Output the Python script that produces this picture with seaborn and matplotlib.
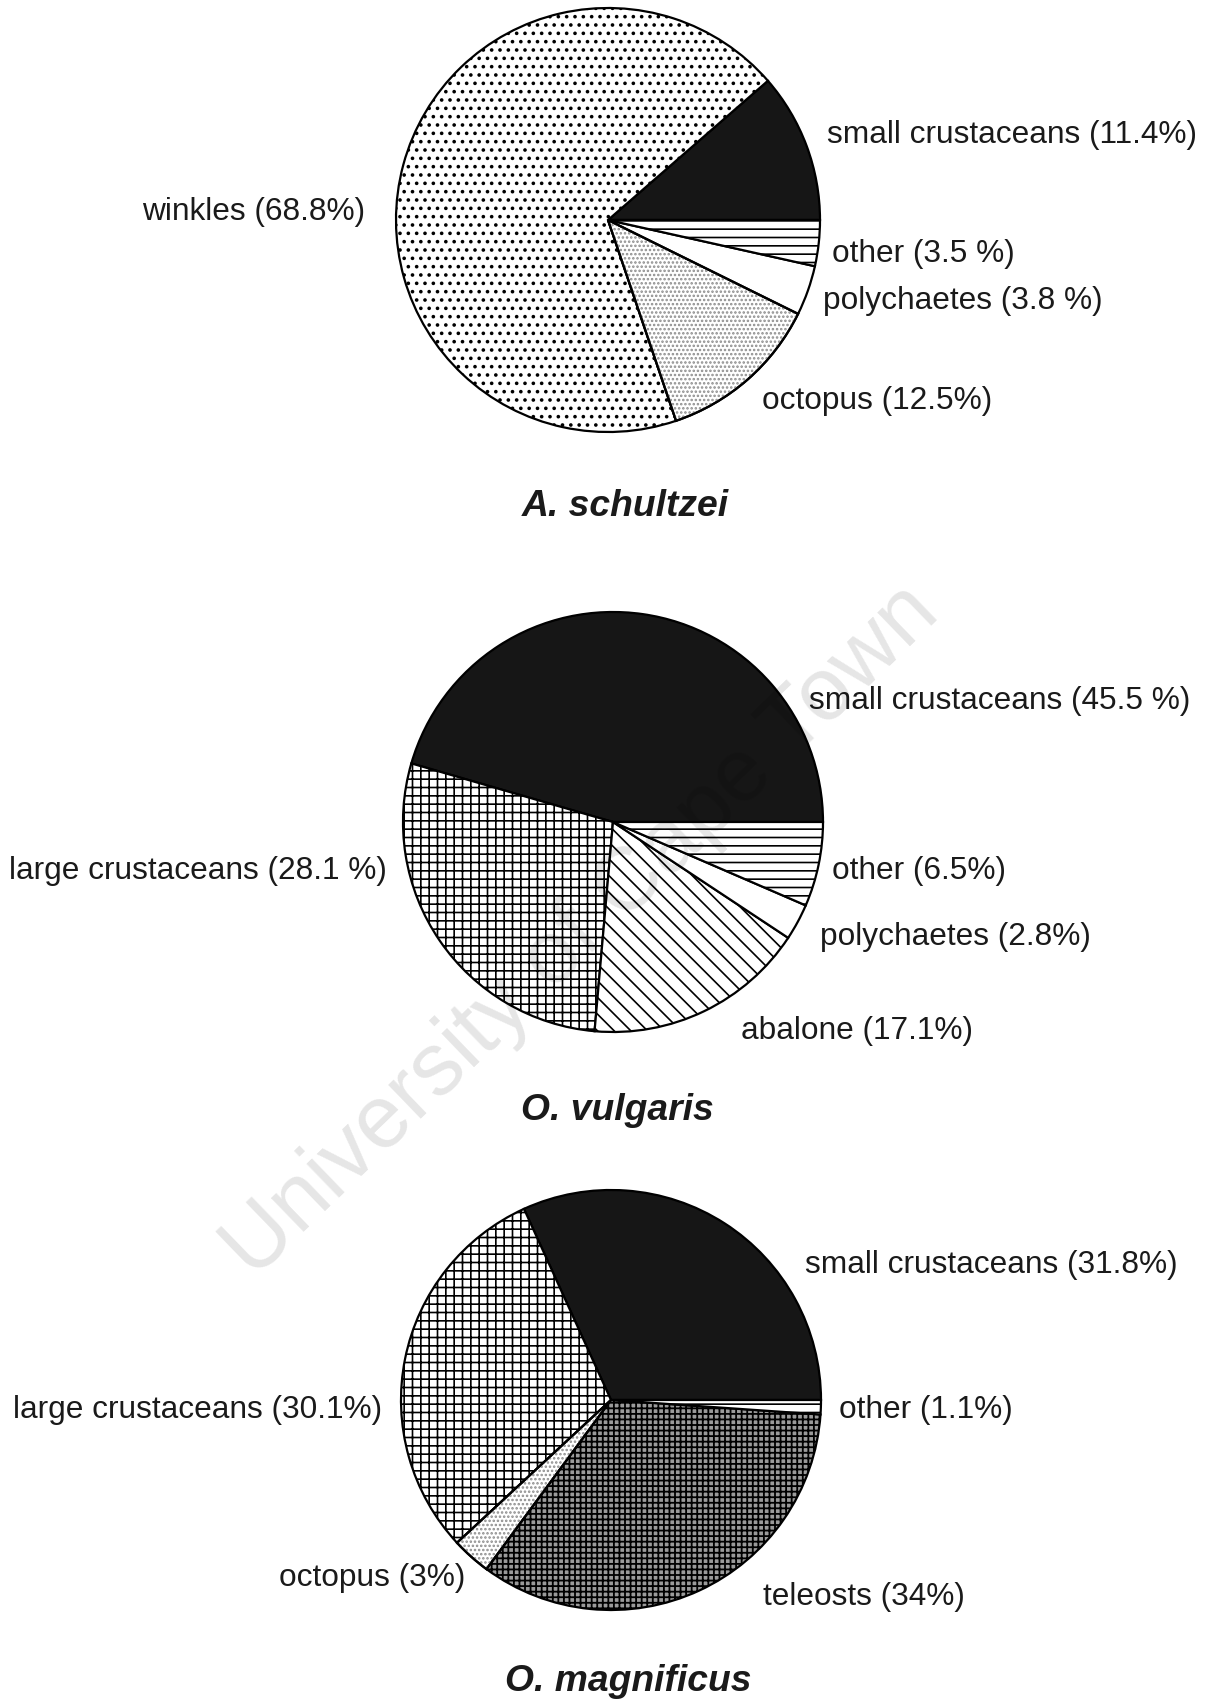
import numpy as np
import matplotlib
matplotlib.use("Agg")
import matplotlib.pyplot as plt
import seaborn as sns
from matplotlib.patches import Wedge

sns.set_theme(style="white")
plt.rcParams['font.family'] = ['Liberation Sans', 'DejaVu Sans']
plt.rcParams['hatch.linewidth'] = 1.2

W, H = 1209, 1701

# ---------------- data ----------------
schultzei_cats = ["small crustaceans", "winkles", "octopus", "polychaetes", "other"]
schultzei_vals = [11.4, 68.8, 12.5, 3.8, 3.5]
schultzei_labels = ["small crustaceans (11.4%)", "winkles (68.8%)", "octopus (12.5%)",
                    "polychaetes (3.8 %)", "other (3.5 %)"]

vulgaris_cats = ["small crustaceans", "large crustaceans", "abalone", "polychaetes", "other"]
vulgaris_vals = [45.5, 28.1, 17.1, 2.8, 6.5]
vulgaris_labels = ["small crustaceans (45.5 %)", "large crustaceans (28.1 %)", "abalone (17.1%)",
                   "polychaetes (2.8%)", "other (6.5%)"]

magnificus_cats = ["small crustaceans", "large crustaceans", "octopus", "teleosts", "other"]
magnificus_vals = [31.8, 30.1, 3.0, 34.0, 1.1]
magnificus_labels = ["small crustaceans (31.8%)", "large crustaceans (30.1%)", "octopus (3%)",
                     "teleosts (34%)", "other (1.1%)"]

titles = ["A. schultzei", "O. vulgaris", "O. magnificus"]

# ---------------- styles ----------------
face = {"small crustaceans": "#161616", "winkles": "white", "octopus": "white",
        "polychaetes": "white", "other": "white", "large crustaceans": "white",
        "abalone": "white", "teleosts": "#9a9a9a"}
hatch = {"small crustaceans": None, "winkles": "..", "octopus": None,
         "polychaetes": None, "other": "--", "large crustaceans": "++",
         "abalone": "\\\\", "teleosts": "+++"}
hatch_lw = {"winkles": 1.4, "teleosts": 1.3}

# layout (pixel positions, y measured from top)
pies = [
    dict(cats=schultzei_cats, vals=schultzei_vals, labels=schultzei_labels,
         center=(608, 220), r=212, title_pos=(625, 506),
         label_pos=[(827, 135, "left"), (365, 212, "right"), (762, 401, "left"),
                    (823, 301, "left"), (832, 254, "left")]),
    dict(cats=vulgaris_cats, vals=vulgaris_vals, labels=vulgaris_labels,
         center=(613, 822), r=210, title_pos=(617, 1110),
         label_pos=[(809, 701, "left"), (387, 871, "right"), (741, 1031, "left"),
                    (820, 937, "left"), (832, 871, "left")]),
    dict(cats=magnificus_cats, vals=magnificus_vals, labels=magnificus_labels,
         center=(611, 1400), r=210, title_pos=(628, 1681),
         label_pos=[(805, 1265, "left"), (382, 1410, "right"), (465, 1578, "right"),
                    (763, 1597, "left"), (839, 1410, "left")]),
]

fig = plt.figure(figsize=(W / 100, H / 100), dpi=100)
ax = fig.add_axes([0, 0, 1, 1])

for p, title in zip(pies, titles):
    cx, cy = p["center"]
    wedges, _ = ax.pie(p["vals"], startangle=0, counterclock=True,
                       center=(cx, H - cy), radius=p["r"], frame=True,
                       colors=[face[c] for c in p["cats"]],
                       wedgeprops=dict(edgecolor="black", linewidth=1.6))
    for w, c in zip(wedges, p["cats"]):
        h = hatch[c]
        if h:
            w.set_hatch(h)
            if c in hatch_lw and hasattr(w, "set_hatch_linewidth"):
                w.set_hatch_linewidth(hatch_lw[c])
        if c == "octopus":
            stip = Wedge(w.center, w.r, w.theta1, w.theta2, facecolor="none",
                         edgecolor="#8c8c8c", linewidth=0, hatch="....",
                         zorder=w.get_zorder() + 0.1)
            ax.add_patch(stip)
            outl = Wedge(w.center, w.r, w.theta1, w.theta2, facecolor="none",
                         edgecolor="black", linewidth=1.6, zorder=w.get_zorder() + 0.2)
            ax.add_patch(outl)
    for lab, (lx, ly, ha) in zip(p["labels"], p["label_pos"]):
        ax.text(lx, H - ly, lab, ha=ha, va="center", fontsize=22.8, color="#1a1a1a")
    tx, ty = p["title_pos"]
    ax.text(tx, H - ty, title, ha="center", va="center", fontsize=26.8,
            fontweight="bold", fontstyle="italic", color="#1a1a1a")

# watermark
ax.text(582, H - 932, "University of Cape Town", rotation=44, rotation_mode="anchor",
        ha="center", va="center", fontsize=64, color="black", alpha=0.10, zorder=10)

ax.set_xlim(0, W)
ax.set_ylim(0, H)
ax.set_aspect("equal")
ax.axis("off")
fig.savefig("out.png", dpi=100, facecolor="white")
